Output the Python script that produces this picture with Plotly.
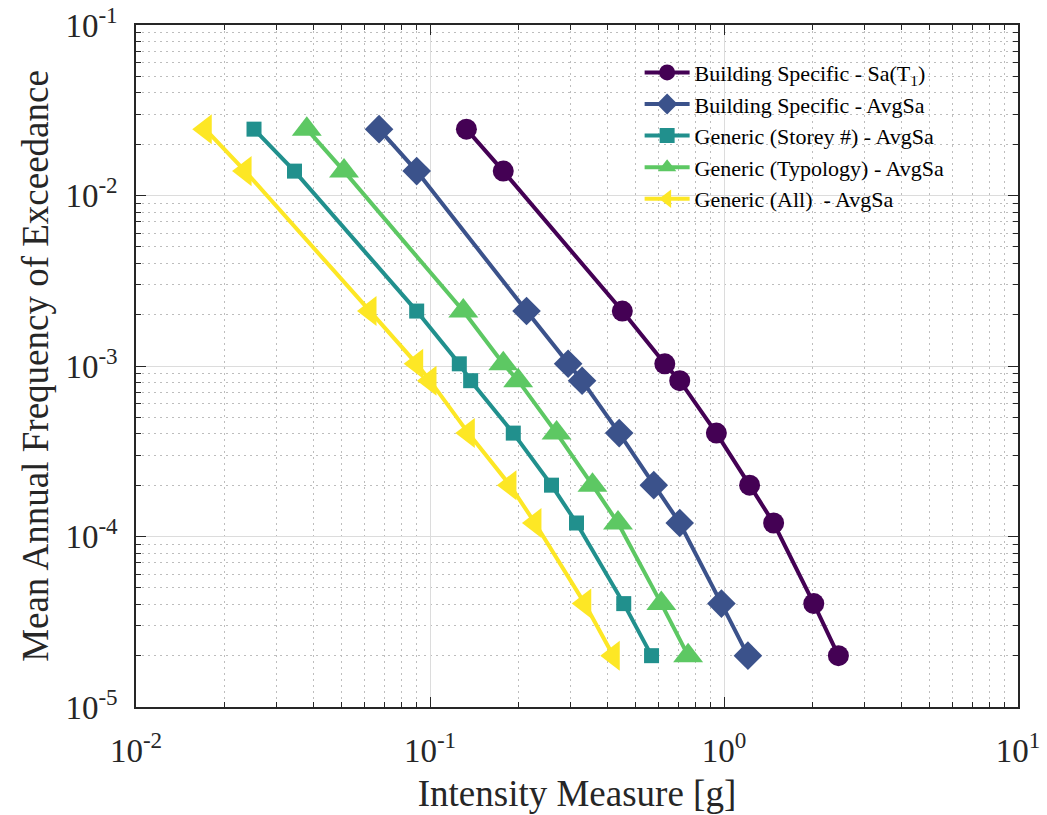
import plotly.graph_objects as go

# Mean annual frequency levels shared by every curve
mafe = [0.0245, 0.0139, 0.0021, 0.00103, 0.00082, 0.000404, 0.0002, 0.00012, 0.0000404, 0.00002]

# Intensity measure [g] for each hazard curve
im_bs_sat1 = [0.133, 0.1775, 0.451, 0.629, 0.707, 0.942, 1.222, 1.475, 2.02, 2.45]
im_bs_avgsa = [0.0671, 0.0901, 0.213, 0.295, 0.329, 0.44, 0.577, 0.707, 0.98, 1.206]
im_gen_storey = [0.0252, 0.0346, 0.0901, 0.1258, 0.1375, 0.192, 0.259, 0.315, 0.456, 0.567]
im_gen_typology = [0.0381, 0.051, 0.1298, 0.1775, 0.1995, 0.2695, 0.357, 0.436, 0.612, 0.755]
im_gen_all = [0.0172, 0.0235, 0.0625, 0.0901, 0.1, 0.135, 0.187, 0.2275, 0.336, 0.42]

names = [
    "Building Specific - Sa(T<sub>1</sub>)",
    "Building Specific - AvgSa",
    "Generic (Storey #) - AvgSa",
    "Generic (Typology) - AvgSa",
    "Generic (All) \u00a0- AvgSa",
]
series = [im_bs_sat1, im_bs_avgsa, im_gen_storey, im_gen_typology, im_gen_all]
colors = ["#440154", "#3b528b", "#21908d", "#5dc863", "#fde725"]
symbols = ["circle", "diamond", "square", "triangle-up", "triangle-left"]
sizes = [21, 22, 15, 26, 26]

FONT = "Liberation Serif"

fig = go.Figure()
for nm, xs, c, s, sz in zip(names, series, colors, symbols, sizes):
    fig.add_trace(go.Scatter(
        x=xs, y=mafe, name=nm, mode="lines+markers",
        line=dict(color=c, width=4),
        marker=dict(symbol=s, size=sz, color=c, line=dict(width=0)),
    ))

x_major = [0.01, 0.1, 1, 10]
x_text = ["10<sup>-2</sup>", "10<sup>-1</sup>", "10<sup>0</sup>", "10<sup>1</sup>"]
y_major = [1e-5, 1e-4, 1e-3, 1e-2, 1e-1]
y_text = ["10<sup>-5</sup>", "10<sup>-4</sup>", "10<sup>-3</sup>", "10<sup>-2</sup>", "10<sup>-1</sup>"]

def minor_vals(lo, hi):
    out = []
    for e in range(lo, hi):
        for m in range(2, 10):
            out.append(m * 10 ** e)
    return out

axis_common = dict(
    type="log", automargin=False,
    showline=True, linecolor="#262626", linewidth=1.5, mirror="allticks",
    ticks="inside", ticklen=10, tickwidth=1.2, tickcolor="#262626",
    showgrid=True, gridcolor="#dcdcdc", gridwidth=1,
    zeroline=False,
    tickfont=dict(family=FONT, size=33, color="#262626"),
)

fig.update_xaxes(
    **axis_common,
    range=[-2, 1],
    tickmode="array", tickvals=x_major, ticktext=x_text,
    ticklabelstandoff=14,
    minor=dict(tickmode="array", tickvals=minor_vals(-2, 1), ticks="inside", ticklen=5,
               tickcolor="#262626", showgrid=True, gridcolor="#bdbdbd", griddash="2px,4px", gridwidth=1),
    title=dict(text="Intensity Measure [g]", font=dict(family=FONT, size=37, color="#262626"), standoff=12),
)
fig.update_yaxes(
    **axis_common,
    range=[-5, -1],
    tickmode="array", tickvals=y_major, ticktext=y_text,
    ticklabelstandoff=10,
    minor=dict(tickmode="array", tickvals=minor_vals(-5, -1), ticks="inside", ticklen=5,
               tickcolor="#262626", showgrid=True, gridcolor="#bdbdbd", griddash="2px,4px", gridwidth=1),
    title=dict(text="Mean Annual Frequency of Exceedance", font=dict(family=FONT, size=37, color="#262626"), standoff=5),
)

fig.update_layout(
    width=1047, height=815,
    margin=dict(l=136, r=29, t=25, b=108),
    plot_bgcolor="white", paper_bgcolor="white",
    font=dict(family=FONT, color="#000000"),
    legend=dict(
        x=0.571, y=0.961, xanchor="left", yanchor="top",
        bgcolor="rgba(0,0,0,0)", borderwidth=0,
        font=dict(family=FONT, size=22, color="#000000"),
        tracegroupgap=0, itemwidth=45,
    ),
)

fig.write_html("out.html")
